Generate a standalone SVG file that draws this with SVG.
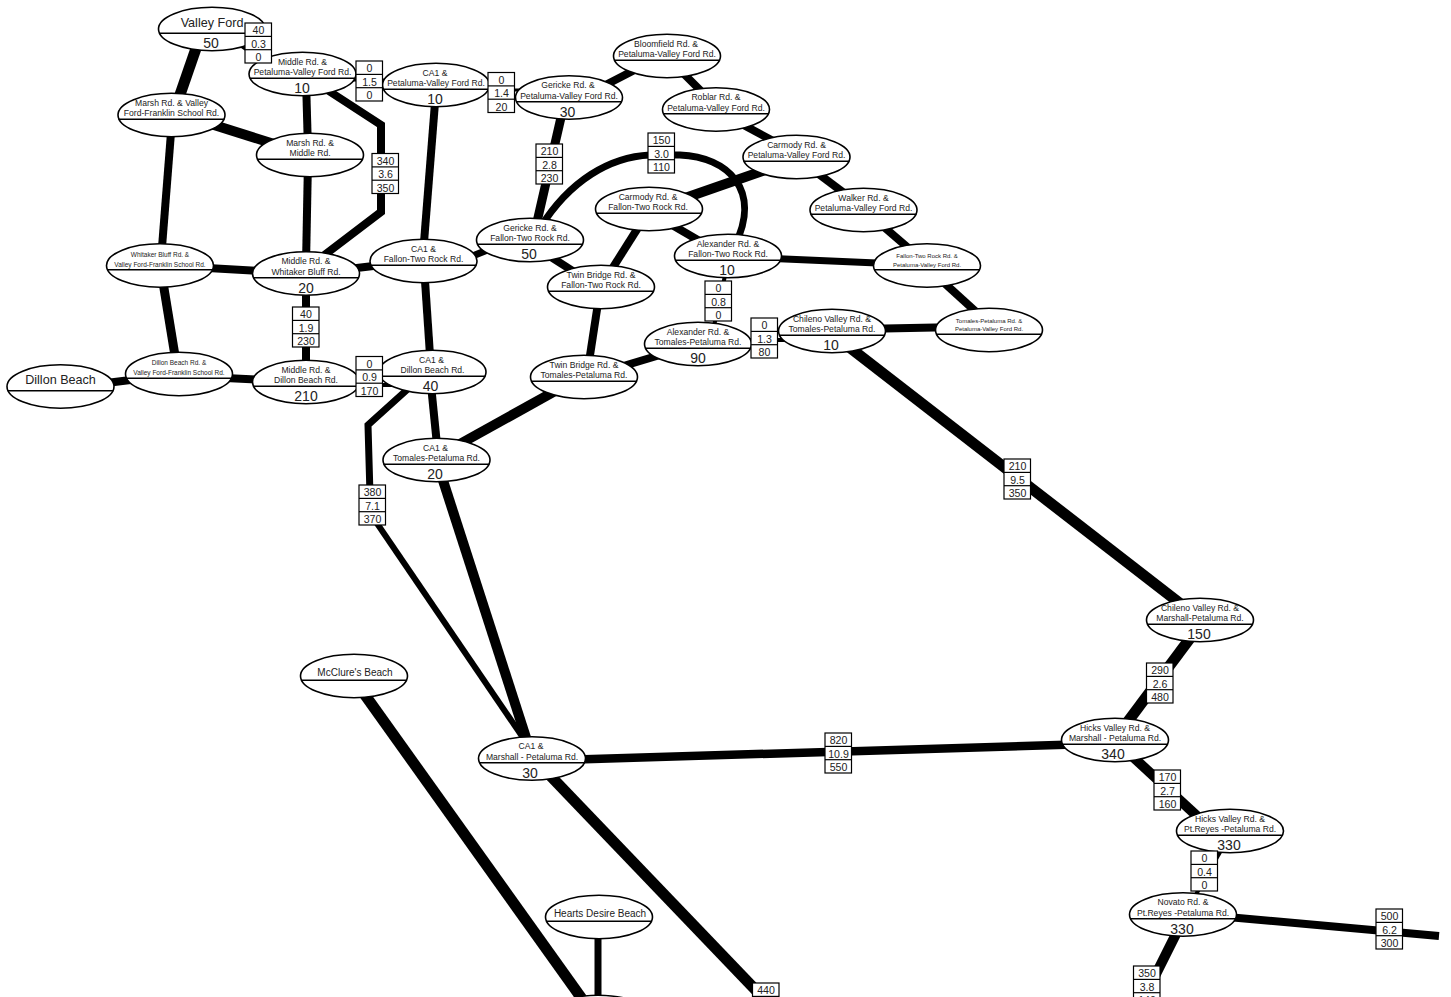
<svg xmlns="http://www.w3.org/2000/svg" xmlns:xlink="http://www.w3.org/1999/xlink" width="1451" height="997" viewBox="0 0 1451 997">
<style>
text{font-family:"Liberation Sans",Arial,sans-serif;text-anchor:middle;fill:#222}
.t{font-size:8.6px}.s{font-size:6.5px}.x{font-size:6px}.n{font-size:14px}.b{font-size:10.6px}.p{font-size:10px}.l{font-size:12.6px}
.e{fill:#fff;stroke:#000;stroke-width:1.6}
.d{stroke:#000;stroke-width:1.4}
.r{fill:#fff;stroke:#000;stroke-width:1.2}
#edges path{fill:none;stroke:#000;stroke-linejoin:miter}
</style>
<defs>
<g id="oval"><ellipse class="e" rx="53.5" ry="21.7"/><line class="d" x1="-52.8" x2="52.8" y1="4.3" y2="4.3"/></g>
<g id="box"><rect class="r" width="26.5" height="40"/><line class="r" x1="0" x2="26.5" y1="13.4" y2="13.4"/><line class="r" x1="0" x2="26.5" y1="26.7" y2="26.7"/></g>
</defs>
<rect width="1451" height="997" fill="#fff"/>
<g id="edges">
<path stroke-width="11" d="M201 34L174 112"/>
<path stroke-width="3" d="M235 42L270 66"/>
<path stroke-width="3" d="M340 80H400"/>
<path stroke-width="3" d="M470 90H535"/>
<path stroke-width="8" d="M306 80L308 150"/>
<path stroke-width="8" d="M315 82L381 125V212L310 266"/>
<path stroke-width="8" d="M436 90L423 255"/>
<path stroke-width="8" d="M172 120L161 260"/>
<path stroke-width="10" d="M195 119L290 149"/>
<path stroke-width="8" d="M308 160L306 265"/>
<path stroke-width="8" d="M190 267L280 272"/>
<path stroke-width="9" d="M161 270L177 368"/>
<path stroke-width="8" d="M340 270L390 264"/>
<path stroke-width="8" d="M306 280V375"/>
<path stroke-width="7" d="M455 263L500 245"/>
<path stroke-width="8" d="M424 266L431 370"/>
<path stroke-width="8" d="M90 385L155 377"/>
<path stroke-width="8" d="M205 377L285 381"/>
<path stroke-width="4" d="M340 385H400"/>
<path stroke-width="8" d="M430 375L438 455"/>
<path stroke-width="7" d="M420 378L368 425L370 495"/>
<path stroke-width="6" d="M372 516L528 745"/>
<path stroke-width="10" d="M438 465L530 750"/>
<path stroke-width="10" d="M440 455L575 380"/>
<path stroke-width="8" d="M600 290L587 375"/>
<path stroke-width="8" d="M600 373L690 346"/>
<path stroke-width="4" d="M720 340H810"/>
<path stroke-width="4" d="M728 262L712 335"/>
<path stroke-width="8" d="M860 329L960 327"/>
<path stroke-width="11" d="M840 340L1195 615"/>
<path stroke-width="7" d="M760 258L900 264"/>
<path stroke-width="8" d="M930 270L985 320"/>
<path stroke-width="8" d="M870 215L920 258"/>
<path stroke-width="8" d="M800 160L860 205"/>
<path stroke-width="8" d="M725 115L790 150"/>
<path stroke-width="8" d="M670 60L710 100"/>
<path stroke-width="8" d="M590 93L650 62"/>
<path stroke-width="9" d="M565 100L534 235"/>
<path stroke-width="10" d="M665 205L780 165"/>
<path stroke-width="8" d="M655 215L715 250"/>
<path stroke-width="8" d="M648 212L605 280"/>
<path stroke-width="8" d="M540 250L590 282"/>
<path stroke-width="7" d="M540 228C570 180 610 157 650 155H680C728 157 762 190 735 245"/>
<path stroke-width="8.5" d="M560 760L1090 744"/>
<path stroke-width="11" d="M540 765L770 1005"/>
<path stroke-width="11" d="M360 688L590 1010"/>
<path stroke-width="7" d="M598 925V1005"/>
<path stroke-width="11" d="M1200 625L1120 732"/>
<path stroke-width="10" d="M1120 745L1210 828"/>
<path stroke-width="4" d="M1228 838L1190 905"/>
<path stroke-width="8" d="M1205 915L1439 936"/>
<path stroke-width="10" d="M1183 920L1148 990"/>
</g>
<g id="n-valley-ford" transform="translate(212,29)"><use href="#oval"/><text class="l" y="-2">Valley Ford</text><text class="n" x="-1" y="19">50</text></g>
<g id="n-middle-pvf" transform="translate(302.5,74)"><use href="#oval"/><text class="t" y="-9.5">Middle Rd. &amp;</text><text class="t" y="1">Petaluma-Valley Ford Rd.</text><text class="n" x="-0.5" y="19">10</text></g>
<g id="n-ca1-pvf" transform="translate(436,85)"><use href="#oval"/><text class="t" x="-1" y="-9.5">CA1 &amp;</text><text class="t" y="1">Petaluma-Valley Ford Rd.</text><text class="n" x="-1" y="19">10</text></g>
<g id="n-marsh-valley" transform="translate(171.5,115)"><use href="#oval"/><text class="t" y="-9.5">Marsh Rd. &amp; Valley</text><text class="t" y="1">Ford-Franklin School Rd.</text></g>
<g id="n-marsh-middle" transform="translate(310,155)"><use href="#oval"/><text class="t" y="-9.5">Marsh Rd. &amp;</text><text class="t" y="1">Middle Rd.</text></g>
<g id="n-gericke-pvf" transform="translate(569,97.5)"><use href="#oval"/><text class="t" x="-1" y="-9.5">Gericke Rd. &amp;</text><text class="t" y="1">Petaluma-Valley Ford Rd.</text><text class="n" x="-1.5" y="19">30</text></g>
<g id="n-bloomfield" transform="translate(667,56)"><use href="#oval"/><text class="t" x="-1" y="-9.5">Bloomfield Rd. &amp;</text><text class="t" y="1">Petaluma-Valley Ford Rd.</text></g>
<g id="n-roblar" transform="translate(716,109.5)"><use href="#oval"/><text class="t" y="-9.5">Roblar Rd. &amp;</text><text class="t" y="1">Petaluma-Valley Ford Rd.</text></g>
<g id="n-carmody-pvf" transform="translate(796.5,157)"><use href="#oval"/><text class="t" y="-9.5">Carmody Rd. &amp;</text><text class="t" y="1">Petaluma-Valley Ford Rd.</text></g>
<g id="n-walker" transform="translate(863.5,210)"><use href="#oval"/><text class="t" y="-9.5">Walker Rd. &amp;</text><text class="t" y="1">Petaluma-Valley Ford Rd.</text></g>
<g id="n-carmody-ftr" transform="translate(649,209)"><use href="#oval"/><text class="t" x="-1" y="-9.5">Carmody Rd. &amp;</text><text class="t" x="-1" y="1">Fallon-Two Rock Rd.</text></g>
<g id="n-gericke-ftr" transform="translate(530,240)"><use href="#oval"/><text class="t" y="-9.5">Gericke Rd. &amp;</text><text class="t" y="1">Fallon-Two Rock Rd.</text><text class="n" x="-1" y="19">50</text></g>
<g id="n-alexander-ftr" transform="translate(728,256)"><use href="#oval"/><text class="t" y="-9.5">Alexander Rd. &amp;</text><text class="t" y="1">Fallon-Two Rock Rd.</text><text class="n" x="-1" y="19">10</text></g>
<g id="n-ftr-pvf" transform="translate(927,265.5)"><use href="#oval"/><text class="x" y="-7.5">Fallon-Two Rock Rd. &amp;</text><text class="x" y="1">Petaluma-Valley Ford Rd.</text></g>
<g id="n-twin-ftr" transform="translate(601,287)"><use href="#oval"/><text class="t" y="-9.5">Twin Bridge Rd. &amp;</text><text class="t" y="1">Fallon-Two Rock Rd.</text></g>
<g id="n-alexander-tp" transform="translate(698,344)"><use href="#oval"/><text class="t" y="-9.5">Alexander Rd. &amp;</text><text class="t" y="1">Tomales-Petaluma Rd.</text><text class="n" y="19">90</text></g>
<g id="n-chileno-tp" transform="translate(832,331)"><use href="#oval"/><text class="t" y="-9.5">Chileno Valley Rd. &amp;</text><text class="t" y="1">Tomales-Petaluma Rd.</text><text class="n" x="-1" y="19">10</text></g>
<g id="n-tp-pvf" transform="translate(989,330)"><use href="#oval"/><text class="x" y="-7.5">Tomales-Petaluma Rd. &amp;</text><text class="x" y="1">Petaluma-Valley Ford Rd.</text></g>
<g id="n-twin-tp" transform="translate(584,377)"><use href="#oval"/><text class="t" y="-9.5">Twin Bridge Rd. &amp;</text><text class="t" y="1">Tomales-Petaluma Rd.</text></g>
<g id="n-whitaker" transform="translate(160,265.5)"><use href="#oval"/><text class="s" y="-9">Whitaker Bluff Rd. &amp;</text><text class="s" y="1">Valley Ford-Franklin School Rd.</text></g>
<g id="n-middle-whitaker" transform="translate(306,273.5)"><use href="#oval"/><text class="t" y="-9.5">Middle Rd. &amp;</text><text class="t" y="1">Whitaker Bluff Rd.</text><text class="n" y="19">20</text></g>
<g id="n-ca1-ftr" transform="translate(423.5,261)"><use href="#oval"/><text class="t" y="-9.5">CA1 &amp;</text><text class="t" y="1">Fallon-Two Rock Rd.</text></g>
<g id="n-dillon-beach" transform="translate(60.5,386.5)"><use href="#oval"/><text class="l" y="-3">Dillon Beach</text></g>
<g id="n-dillon-vffs" transform="translate(179,374)"><use href="#oval"/><text class="s" y="-9">Dillon Beach Rd. &amp;</text><text class="s" y="1">Valley Ford-Franklin School Rd.</text></g>
<g id="n-middle-dillon" transform="translate(306,382)"><use href="#oval"/><text class="t" y="-9.5">Middle Rd. &amp;</text><text class="t" y="1">Dillon Beach Rd.</text><text class="n" y="19">210</text></g>
<g id="n-ca1-dillon" transform="translate(432.5,372)"><use href="#oval"/><text class="t" x="-1" y="-9.5">CA1 &amp;</text><text class="t" y="1">Dillon Beach Rd.</text><text class="n" x="-2" y="19">40</text></g>
<g id="n-ca1-tp" transform="translate(436.5,460)"><use href="#oval"/><text class="t" x="-1" y="-9.5">CA1 &amp;</text><text class="t" y="1">Tomales-Petaluma Rd.</text><text class="n" x="-1.5" y="19">20</text></g>
<g id="n-ca1-marshall" transform="translate(532,758.5)"><use href="#oval"/><text class="t" x="-1" y="-9.5">CA1 &amp;</text><text class="t" y="1">Marshall - Petaluma Rd.</text><text class="n" x="-2" y="19">30</text></g>
<g id="n-mcclure" transform="translate(354,676)"><use href="#oval"/><text class="p" x="1" y="0">McClure's Beach</text></g>
<g id="n-hearts" transform="translate(599,917)"><use href="#oval"/><text class="p" x="1" y="0">Hearts Desire Beach</text></g>
<g id="n-bottom" transform="translate(598,1017)"><use href="#oval"/></g>
<g id="n-chileno-mp" transform="translate(1200,620)"><use href="#oval"/><text class="t" y="-9.5">Chileno Valley Rd. &amp;</text><text class="t" y="1">Marshall-Petaluma Rd.</text><text class="n" x="-1" y="19">150</text></g>
<g id="n-hicks-mp" transform="translate(1115,740)"><use href="#oval"/><text class="t" y="-9.5">Hicks Valley Rd. &amp;</text><text class="t" y="1">Marshall - Petaluma Rd.</text><text class="n" x="-2" y="19">340</text></g>
<g id="n-hicks-pr" transform="translate(1230,831)"><use href="#oval"/><text class="t" y="-9.5">Hicks Valley Rd. &amp;</text><text class="t" y="1">Pt.Reyes -Petaluma Rd.</text><text class="n" x="-1" y="19">330</text></g>
<g id="n-novato" transform="translate(1183,914.5)"><use href="#oval"/><text class="t" y="-9.5">Novato Rd. &amp;</text><text class="t" y="1">Pt.Reyes -Petaluma Rd.</text><text class="n" x="-1" y="19">330</text></g>
<g id="labels">
<g transform="translate(245,23)"><use href="#box"/><text class="b" x="13.5" y="11">40</text><text class="b" x="13.5" y="24.5">0.3</text><text class="b" x="13.5" y="38">0</text></g>
<g transform="translate(356,61)"><use href="#box"/><text class="b" x="13.5" y="11">0</text><text class="b" x="13.5" y="24.5">1.5</text><text class="b" x="13.5" y="38">0</text></g>
<g transform="translate(488,72.5)"><use href="#box"/><text class="b" x="13.5" y="11">0</text><text class="b" x="13.5" y="24.5">1.4</text><text class="b" x="13.5" y="38">20</text></g>
<g transform="translate(372,153.5)"><use href="#box"/><text class="b" x="13.5" y="11">340</text><text class="b" x="13.5" y="24.5">3.6</text><text class="b" x="13.5" y="38">350</text></g>
<g transform="translate(536,144)"><use href="#box"/><text class="b" x="13.5" y="11">210</text><text class="b" x="13.5" y="24.5">2.8</text><text class="b" x="13.5" y="38">230</text></g>
<g transform="translate(648,133)"><use href="#box"/><text class="b" x="13.5" y="11">150</text><text class="b" x="13.5" y="24.5">3.0</text><text class="b" x="13.5" y="38">110</text></g>
<g transform="translate(292.5,307)"><use href="#box"/><text class="b" x="13.5" y="11">40</text><text class="b" x="13.5" y="24.5">1.9</text><text class="b" x="13.5" y="38">230</text></g>
<g transform="translate(356,356.5)"><use href="#box"/><text class="b" x="13.5" y="11">0</text><text class="b" x="13.5" y="24.5">0.9</text><text class="b" x="13.5" y="38">170</text></g>
<g transform="translate(359,485)"><use href="#box"/><text class="b" x="13.5" y="11">380</text><text class="b" x="13.5" y="24.5">7.1</text><text class="b" x="13.5" y="38">370</text></g>
<g transform="translate(705,281)"><use href="#box"/><text class="b" x="13.5" y="11">0</text><text class="b" x="13.5" y="24.5">0.8</text><text class="b" x="13.5" y="38">0</text></g>
<g transform="translate(751,318)"><use href="#box"/><text class="b" x="13.5" y="11">0</text><text class="b" x="13.5" y="24.5">1.3</text><text class="b" x="13.5" y="38">80</text></g>
<g transform="translate(1004,459)"><use href="#box"/><text class="b" x="13.5" y="11">210</text><text class="b" x="13.5" y="24.5">9.5</text><text class="b" x="13.5" y="38">350</text></g>
<g transform="translate(825,733)"><use href="#box"/><text class="b" x="13.5" y="11">820</text><text class="b" x="13.5" y="24.5">10.9</text><text class="b" x="13.5" y="38">550</text></g>
<g transform="translate(1146.5,663)"><use href="#box"/><text class="b" x="13.5" y="11">290</text><text class="b" x="13.5" y="24.5">2.6</text><text class="b" x="13.5" y="38">480</text></g>
<g transform="translate(1154,770)"><use href="#box"/><text class="b" x="13.5" y="11">170</text><text class="b" x="13.5" y="24.5">2.7</text><text class="b" x="13.5" y="38">160</text></g>
<g transform="translate(1191,851)"><use href="#box"/><text class="b" x="13.5" y="11">0</text><text class="b" x="13.5" y="24.5">0.4</text><text class="b" x="13.5" y="38">0</text></g>
<g transform="translate(1376,909)"><use href="#box"/><text class="b" x="13.5" y="11">500</text><text class="b" x="13.5" y="24.5">6.2</text><text class="b" x="13.5" y="38">300</text></g>
<g transform="translate(1133.5,966)"><use href="#box"/><text class="b" x="13.5" y="11">350</text><text class="b" x="13.5" y="24.5">3.8</text><text class="b" x="13.5" y="38">140</text></g>
<g transform="translate(752.5,983)"><use href="#box"/><text class="b" x="13.5" y="11">440</text></g>
</g>
</svg>
